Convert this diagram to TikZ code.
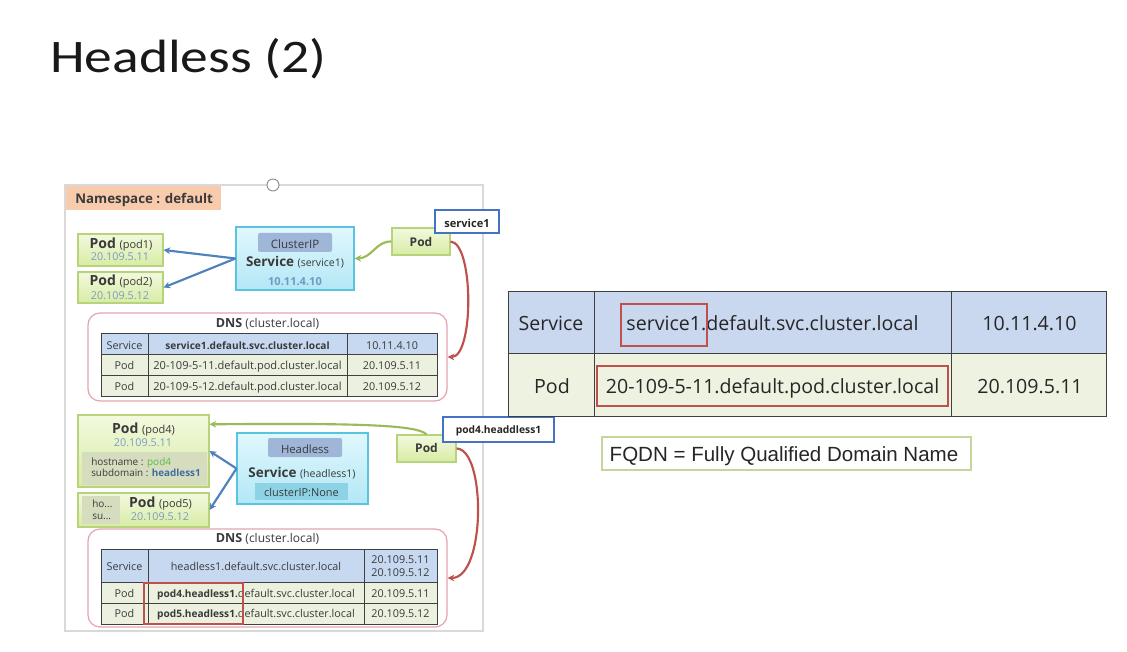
\documentclass[tikz,border=0pt]{standalone}
\usepackage{fontspec}
\usepackage{graphicx}
\setmainfont{Open Sans}
\newfontfamily\titlefont{Carlito}
\newfontfamily\fqdnfont{Liberation Sans}
\usetikzlibrary{fit,shadows,arrows.meta}

\definecolor{podtop}{HTML}{F2F9DE}
\definecolor{podbot}{HTML}{D8ECA4}
\definecolor{podborder}{HTML}{B7D47C}
\definecolor{svctop}{HTML}{E0F8FD}
\definecolor{svcbot}{HTML}{B3E7F6}
\definecolor{svcborder}{HTML}{58C4E0}
\definecolor{tagblue}{HTML}{9FB6D9}
\definecolor{tagcyan}{HTML}{8DD3E6}
\definecolor{arrowblue}{HTML}{4F81BD}
\definecolor{arrowgreen}{HTML}{9BBB59}
\definecolor{arrowred}{HTML}{C0504D}
\definecolor{dnsborder}{HTML}{E6A3AD}
\definecolor{rowblue}{HTML}{C6D9F1}
\definecolor{rowgreen}{HTML}{EBF1DE}
\definecolor{bigblue}{HTML}{C9D8EF}
\definecolor{biggreen}{HTML}{EEF2E0}
\definecolor{ipblue}{HTML}{7B9CC4}
\definecolor{ipbold}{HTML}{6E9BC5}
\definecolor{labelblue}{HTML}{4472C4}
\definecolor{textgray}{HTML}{3A3A3A}
\definecolor{nsfill}{HTML}{F8CBAD}
\definecolor{innergray}{HTML}{D5DDBE}
\definecolor{hostgreen}{HTML}{5DB946}
\definecolor{subblue}{HTML}{3F6BA5}
\definecolor{fqdnborder}{HTML}{C4D79B}
\definecolor{tableline}{HTML}{404040}

\newcommand\fz[1]{\fontsize{#1}{#1}\selectfont}

\tikzset{
  txt/.style={inner sep=0, anchor=base, text=textgray},
  softshadow/.style={drop shadow={opacity=0.18, shadow xshift=1pt, shadow yshift=-1pt}},
  podbox/.style={draw=podborder, line width=0.8pt, top color=podtop, bottom color=podbot, inner sep=0, softshadow},
  svcbox/.style={draw=svcborder, line width=0.8pt, top color=svctop, bottom color=svcbot, inner sep=0, softshadow},
  tagbox/.style={fill=tagblue, inner sep=0, rounded corners=1.5pt},
  dnsbox/.style={draw=dnsborder, line width=0.9pt, fill=white, rounded corners=9pt, inner sep=0},
  namebox/.style={draw=labelblue, line width=1.6pt, fill=white, inner sep=0},
  redmark/.style={draw=arrowred, line width=1.9pt, inner sep=0},
  tline/.style={draw=tableline, line width=0.6pt},
  bigline/.style={draw=tableline, line width=0.75pt},
  bluearrow/.style={draw=arrowblue, line width=1.6pt, -{Stealth[length=5pt,width=5pt]}},
  greenarrow/.style={draw=arrowgreen, line width=1.6pt, -{Stealth[length=5pt,width=5pt]}},
  redarrow/.style={draw=arrowred, line width=1.6pt, -{Stealth[length=5pt,width=5pt]}}
}

\begin{document}
\begin{tikzpicture}[x=0.75pt,y=-0.75pt]
\useasboundingbox (0,0) rectangle (1127,652);
\fill[white] (0,0) rectangle (1127,652);

% title
\node[inner sep=0, anchor=base west, text=black!90] (title) at (50,73)
  {\titlefont\fz{35}\scalebox{1.19}[1]{Headless (2)}};

% namespace frame
\node[draw=black!15, line width=1.1pt, fit={(65,185)(483,631)}, inner sep=0] (panel) {};
\node[circle, draw=black!45, fill=white, line width=0.7pt, minimum size=9pt, inner sep=0] (handle) at (273,185) {};
\node[fill=nsfill, fit={(66,186)(221,210)}, inner sep=0] (ns) {};
\node[txt, anchor=base west] (nstext) at (75,204) {\fz{10}\bfseries Namespace : default};

% ---- ClusterIP part ----
\node[podbox, fit={(78,234)(163,266)}] (pod1) {};
\node[txt] (pod1a) at (121,248) {\fz{10.5}\bfseries Pod \mdseries\fz{8.25}(pod1)};
\node[txt, text=ipblue] (pod1b) at (120,261) {\fz{8.1}20.109.5.11};

\node[podbox, fit={(78,272)(163,303)}] (pod2) {};
\node[txt] (pod2a) at (121,286) {\fz{10.5}\bfseries Pod \mdseries\fz{8.25}(pod2)};
\node[txt, text=ipblue] (pod2b) at (120,299) {\fz{8.1}20.109.5.12};

\node[svcbox, fit={(236,227)(354,290)}] (svc1) {};
\node[tagbox, fit={(258,233)(332,252)}] (svc1tag) {};
\node[txt] (svc1taga) at (295,248) {\fz{8.7}ClusterIP};
\node[txt] (svc1a) at (295,267) {\fz{10.1}\bfseries Service \mdseries\fz{7.9}(service1)};
\node[txt, text=ipbold] (svc1b) at (295,286) {\fz{8.3}\bfseries 10.11.4.10};

\node[podbox, fit={(392,228)(450,255)}] (pr1) {};
\node[txt] (pr1a) at (421,246.5) {\fz{9}\bfseries Pod};

% DNS table for the ClusterIP service
\node[dnsbox, fit={(88,313)(447,401)}] (dns1) {};
\node[txt] (dns1t) at (267.5,327) {\fz{9.4}\bfseries DNS \mdseries\fz{9}(cluster.local)};
\fill[rowblue] (101,333) rectangle (437,354);
\fill[rowgreen] (101,354) rectangle (437,396);
\draw[tline] (101,333) rectangle (437,396) (101,354) -- (437,354) (101,375) -- (437,375)
  (148,333) -- (148,396) (347,333) -- (347,396);
\node[txt] (d1a) at (124.5,349) {\fz{8.1}Service};
\node[txt] (d1b) at (247.5,349) {\fz{7.6}\bfseries service1.default.svc.cluster.local};
\node[txt] (d1c) at (392,349) {\fz{8.1}10.11.4.10};
\node[txt] (d1d) at (124.5,369) {\fz{8.1}Pod};
\node[txt] (d1e) at (247.5,369) {\fz{8.3}20-109-5-11.default.pod.cluster.local};
\node[txt] (d1f) at (392,369) {\fz{8.1}20.109.5.11};
\node[txt] (d1g) at (124.5,390) {\fz{8.1}Pod};
\node[txt] (d1h) at (247.5,390) {\fz{8.3}20-109-5-12.default.pod.cluster.local};
\node[txt] (d1i) at (392,390) {\fz{8.1}20.109.5.12};

% ---- Headless part ----
\node[podbox, fit={(78,415)(209,487)}] (pod4) {};
\node[fill=innergray, fit={(82,452)(207,485)}, inner sep=0] (pod4in) {};
\node[txt] (pod4a) at (143.5,433) {\fz{10.5}\bfseries Pod \mdseries\fz{8.25}(pod4)};
\node[txt, text=ipblue] (pod4b) at (143,446) {\fz{8.1}20.109.5.11};
\node[txt, anchor=base west] (pod4c) at (91,465) {\fz{7.5}hostname : \textcolor{hostgreen}{pod4}};
\node[txt, anchor=base west] (pod4d) at (91,476) {\fz{7.4}subdomain : \textcolor{subblue}{\bfseries headless1}};

\node[podbox, fit={(78,493)(209,527)}] (pod5) {};
\node[fill=innergray, fit={(82,496)(120,524)}, inner sep=0] (pod5in) {};
\node[txt, anchor=base west] (pod5c) at (92,507) {\fz{7.5}ho...};
\node[txt, anchor=base west] (pod5d) at (92,519) {\fz{7.5}su...};
\node[txt] (pod5a) at (160.5,507) {\fz{10.5}\bfseries Pod \mdseries\fz{8.25}(pod5)};
\node[txt, text=ipblue] (pod5b) at (160,520) {\fz{8.1}20.109.5.12};

\node[svcbox, fit={(237,433)(368,504)}] (svc2) {};
\node[tagbox, fit={(268,438)(342,457)}] (svc2tag) {};
\node[txt] (svc2taga) at (305,453) {\fz{8.5}Headless};
\node[txt] (svc2a) at (302,477) {\fz{10.1}\bfseries Service \mdseries\fz{7.9}(headless1)};
\node[fill=tagcyan, fit={(255,483)(348,500)}, inner sep=0] (svc2ip) {};
\node[txt] (svc2ipa) at (301.5,496) {\fz{8.2}clusterIP:None};

\node[podbox, fit={(397,435)(456,462)}] (pr2) {};
\node[txt] (pr2a) at (426.5,452.5) {\fz{9}\bfseries Pod};

% DNS table for the headless service
\node[dnsbox, fit={(88,529)(447,627)}] (dns2) {};
\node[txt] (dns2t) at (267.5,542.5) {\fz{9.4}\bfseries DNS \mdseries\fz{9}(cluster.local)};
\fill[rowblue] (101,549) rectangle (437,582);
\fill[rowgreen] (101,582) rectangle (437,624);
\draw[tline] (101,549) rectangle (437,624) (101,582) -- (437,582) (101,603) -- (437,603)
  (148,549) -- (148,624) (364,549) -- (364,624);
\node[txt] (d2a) at (124.5,570.5) {\fz{8.1}Service};
\node[txt] (d2b) at (256,570.5) {\fz{8.1}headless1.default.svc.cluster.local};
\node[txt] (d2c) at (400.5,563) {\fz{8.1}20.109.5.11};
\node[txt] (d2c2) at (400.5,576.5) {\fz{8.1}20.109.5.12};
\node[txt] (d2d) at (124.5,597) {\fz{8.1}Pod};
\node[txt] (d2e) at (256,597) {{\fz{7.6}\bfseries pod4.headless1.}{\fz{8.1}default.svc.cluster.local}};
\node[txt] (d2f) at (400.5,597) {\fz{8.1}20.109.5.11};
\node[txt] (d2g) at (124.5,617.5) {\fz{8.1}Pod};
\node[txt] (d2h) at (256,617.5) {{\fz{7.6}\bfseries pod5.headless1.}{\fz{8.1}default.svc.cluster.local}};
\node[txt] (d2i) at (400.5,617.5) {\fz{8.1}20.109.5.12};
\node[redmark, fit={(144,583)(243,624)}] (mark3) {};

% connectors
\draw[bluearrow] (svc1.west) -- (pod1.east);
\draw[bluearrow] (svc1.west) -- (pod2.east);
\draw[greenarrow] (pr1.west) .. controls (376,241) and (372,258) .. (svc1.east);
\draw[redarrow] (pr1.east) .. controls (474,243) and (474,357) .. (dns1.east);
\draw[bluearrow] (svc2.west) -- (pod4.east);
\draw[bluearrow] (svc2.west) -- (pod5.east);
\draw[greenarrow] (pr2.north) .. controls (418,425) and (360,423) .. (pod4.22);
\draw[redarrow] (pr2.east) .. controls (486,449) and (486,578) .. (dns2.east);

% DNS name labels
\node[namebox, fit={(435,210)(499,233)}] (lab1) {};
\node[txt, text=black!85] (lab1a) at (467,228) {\fz{8.3}\bfseries service1};
\node[namebox, fit={(443,417)(554,442)}] (lab2) {};
\node[txt, text=black!85] (lab2a) at (498.5,433.5) {\fz{7.7}\bfseries pod4.headdless1};

% ---- FQDN table ----
\fill[bigblue] (508,291) rectangle (1106,353);
\fill[biggreen] (508,353) rectangle (1106,416);
\draw[bigline] (508,291) rectangle (1106,416) (508,353) -- (1106,353)
  (594,291) -- (594,416) (951,291) -- (951,416);
\node[txt, text=black!85] (b1) at (551,330.7) {\fz{14.7}Service};
\node[txt, text=black!85] (b2) at (772.5,330.7) {\fz{14.7}service1.default.svc.cluster.local};
\node[txt, text=black!85] (b3) at (1029.5,330.7) {\fz{14.7}10.11.4.10};
\node[txt, text=black!85] (b4) at (552,393) {\fz{14.7}Pod};
\node[txt, text=black!85] (b5) at (772.5,393) {\fz{14.7}20-109-5-11.default.pod.cluster.local};
\node[txt, text=black!85] (b6) at (1030,393) {\fz{14.7}20.109.5.11};
\node[redmark, fit={(621,304)(707,346)}] (mark1) {};
\node[redmark, fit={(597,366)(948,406)}] (mark2) {};

\node[draw=fqdnborder, line width=1pt, fill=white, fit={(602,437)(971,470)}, inner sep=0] (fqdn) {};
\node[txt, text=black!85] (fqdnt) at (784,461) {\fqdnfont\fz{15.4}FQDN = Fully Qualified Domain Name};
\end{tikzpicture}
\end{document}
